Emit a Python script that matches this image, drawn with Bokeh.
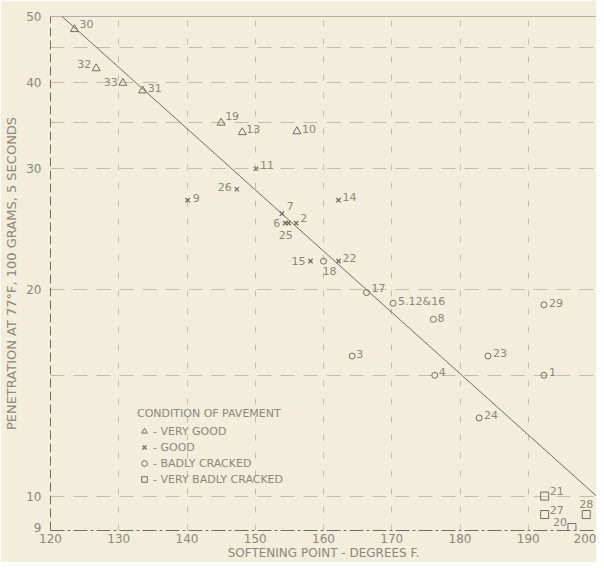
from bokeh.plotting import figure
from bokeh.models import ColumnDataSource, FixedTicker, Span, Legend, LegendItem, BasicTickFormatter
from bokeh.embed import file_html
from bokeh.resources import INLINE
from bokeh.core.properties import value

# ---------------- data ----------------
# Very good (triangles)
vg_soft = [123.5, 126.7, 130.6, 133.5, 145.0, 148.1, 156.1]
vg_pen = [47.9, 42.0, 40.0, 39.0, 35.0, 33.9, 34.0]
vg_ids = ["30", "32", "33", "31", "19", "13", "10"]

# Good (x)
gd_soft = [150.1, 147.3, 140.1, 162.2, 153.9, 154.4, 154.9, 156.0, 158.1, 162.2]
gd_pen = [30.0, 28.0, 27.0, 27.0, 25.8, 25.0, 25.0, 25.0, 22.0, 22.0]
gd_ids = ["11", "26", "9", "14", "7", "6", "25", "2", "15", "22"]

# Badly cracked (circles)
bc_soft = [166.3, 160.0, 170.2, 176.1, 192.3, 164.2, 184.1, 176.3, 192.3, 182.8]
bc_pen = [19.8, 22.0, 19.1, 18.1, 19.0, 16.0, 16.0, 15.0, 15.0, 13.0]
bc_ids = ["17", "18", "5.12&16", "8", "29", "3", "23", "4", "1", "24"]

# Very badly cracked (squares)
vb_soft = [192.4, 192.4, 198.5, 196.4]
vb_pen = [10.0, 9.4, 9.4, 9.0]
vb_ids = ["21", "27", "28", "20"]

# Regression line
line_soft = [121.7, 200.0]
line_pen = [50.0, 10.0]

x_ticks = [120, 130, 140, 150, 160, 170, 180, 190, 200]
y_ticks = [9, 10, 20, 30, 40, 50]
x_grid = [130, 140, 150, 160, 170, 180, 190]
y_grid = [10, 15, 20, 30, 35, 40, 45]

# ---------------- label styling (pixel offsets) ----------------
vg_style = dict(dx=[5, -5, -5, 5, 4, 4, 5], dy=[-5, -4, -1, -3, -7, -3, -2],
                al=["left", "right", "right", "left", "left", "left", "left"])
gd_style = dict(dx=[4, -5, 5, 4, 5, -5, -3, 4, -5, 4], dy=[-4, -2, -2, -3, -8, 0, 12, -5, 0, -3],
                al=["left", "right", "left", "left", "left", "right", "center", "left", "right", "left"])
bc_style = dict(dx=[5, 6, 5, 4, 5, 4, 5, 4, 5, 5], dy=[-5, 10, -2, -1, -2, -2, -3, -3, -3, -3],
                al=["left", "center", "left", "left", "left", "left", "left", "left", "left", "left"])
vb_style = dict(dx=[5, 5, 0, -5], dy=[-5, -5, -11, -6],
                al=["left", "left", "center", "right"])

BG = "#f2eedb"
INK = "#706e64"
TXT = "#8a887c"
GRID = "#c2beac"
FONT = "DejaVu Sans"

p = figure(width=596, height=562, x_range=(120, 200), y_range=(8.91, 50),
           y_axis_type="log", output_backend="svg", toolbar_location=None,
           min_border_left=50, min_border_top=16, min_border_right=0, min_border_bottom=32)
p.background_fill_color = BG
p.border_fill_color = BG
p.outline_line_color = None

# grid
p.xgrid.ticker = FixedTicker(ticks=x_grid)
p.ygrid.ticker = FixedTicker(ticks=y_grid)
p.xgrid.grid_line_color = GRID
p.xgrid.grid_line_dash = "6 12"
p.ygrid.grid_line_color = GRID
p.ygrid.grid_line_dash = "14 9"

# axes
p.xaxis.ticker = FixedTicker(ticks=x_ticks)
p.yaxis.ticker = FixedTicker(ticks=y_ticks)
p.yaxis.formatter = BasicTickFormatter()
for ax in (p.xaxis, p.yaxis):
    ax.major_tick_line_color = None
    ax.minor_tick_line_color = None
    ax.major_tick_out = 0
    ax.major_tick_in = 0
    ax.minor_tick_out = 0
    ax.axis_line_color = INK
    ax.major_label_text_color = TXT
    ax.major_label_text_font = FONT
    ax.major_label_text_font_size = "12px"
    ax.axis_label_text_color = TXT
    ax.axis_label_text_font = FONT
    ax.axis_label_text_font_style = "normal"
p.xaxis.axis_line_dash = "14 3 3 3"
p.yaxis.axis_line_dash = "9 4"
p.xaxis.major_label_standoff = 3
p.yaxis.major_label_standoff = 9
p.xaxis.axis_label = "SOFTENING POINT - DEGREES F."
p.yaxis.axis_label = "PENETRATION AT 77\u00b0F, 100 GRAMS, 5 SECONDS"
p.xaxis.axis_label_text_font_size = "12px"
p.yaxis.axis_label_text_font_size = "13px"
p.xaxis.axis_label_standoff = 0
p.yaxis.axis_label_standoff = 4

p.add_layout(Span(location=50, dimension="width", line_color=INK, line_width=1))
p.add_layout(Span(location=200, dimension="height", line_color=INK, line_width=1, line_dash="12 6"))

# regression line
p.line(line_soft, line_pen, line_color=INK, line_width=1)

# markers
r_vg = p.scatter(vg_soft, vg_pen, marker="triangle", size=8, fill_color=None, line_color=INK)
r_gd = p.scatter(gd_soft, gd_pen, marker="x", size=6, line_color=INK, line_width=1.3)
r_bc = p.scatter(bc_soft, bc_pen, marker="circle", size=6, fill_color=None, line_color=INK)
r_vb = p.scatter(vb_soft, vb_pen, marker="square", size=8, fill_color=None, line_color=INK)

def add_labels(xs, ys, ids, st):
    src = ColumnDataSource(dict(x=xs, y=ys, t=ids, dx=st["dx"], dy=st["dy"], al=st["al"]))
    p.text(x="x", y="y", text="t", x_offset="dx", y_offset="dy", text_align="al",
           text_baseline="middle", text_font=value(FONT), text_font_size="11px",
           text_color=TXT, source=src)

add_labels(vg_soft, vg_pen, vg_ids, vg_style)
add_labels(gd_soft, gd_pen, gd_ids, gd_style)
add_labels(bc_soft, bc_pen, bc_ids, bc_style)
add_labels(vb_soft, vb_pen, vb_ids, vb_style)

legend = Legend(items=[
    LegendItem(label="- VERY GOOD", renderers=[r_vg]),
    LegendItem(label="- GOOD", renderers=[r_gd]),
    LegendItem(label="- BADLY CRACKED", renderers=[r_bc]),
    LegendItem(label="- VERY BADLY CRACKED", renderers=[r_vb]),
], title="CONDITION OF PAVEMENT", location=(87, 44))
legend.background_fill_alpha = 0
legend.border_line_alpha = 0
legend.padding = 0
legend.margin = 0
legend.spacing = 2
legend.glyph_width = 14
legend.glyph_height = 14
legend.label_height = 14
legend.label_standoff = 2
legend.title_standoff = 4
legend.label_text_font = FONT
legend.label_text_font_size = "11px"
legend.label_text_color = TXT
legend.title_text_font = FONT
legend.title_text_font_size = "11px"
legend.title_text_font_style = "normal"
legend.title_text_color = TXT
p.add_layout(legend)

open("out.html", "w").write(file_html(p, INLINE))
